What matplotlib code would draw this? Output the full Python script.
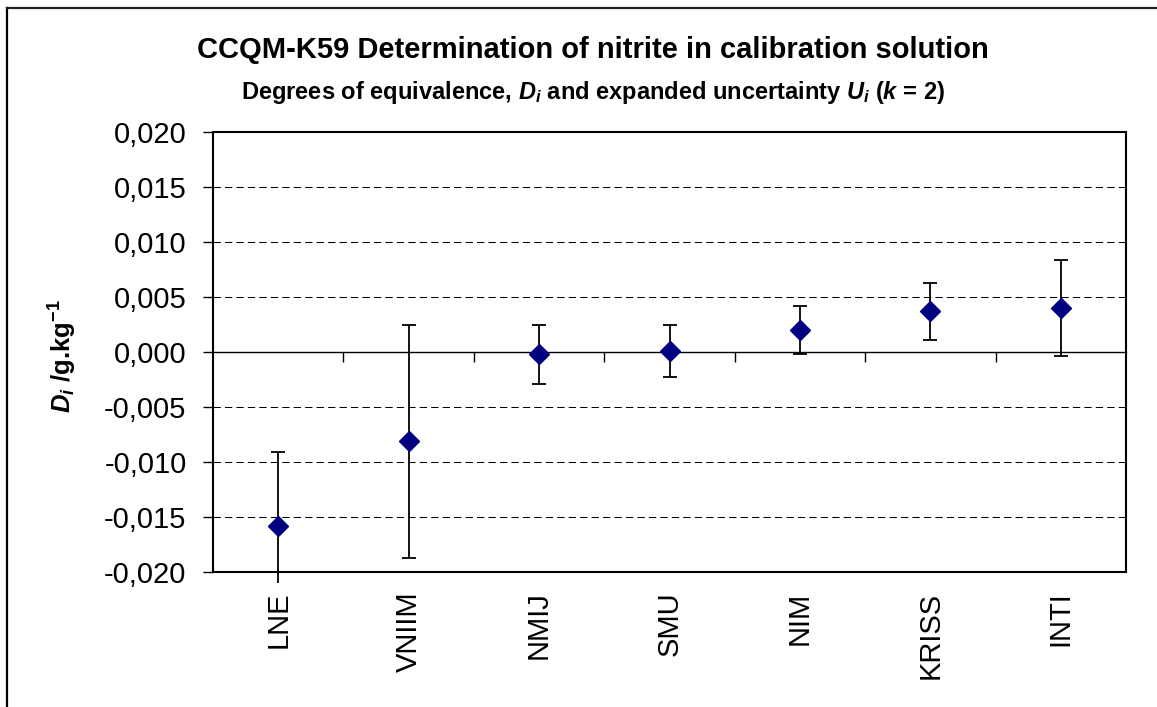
import matplotlib
matplotlib.use("Agg")
import matplotlib.pyplot as plt
from matplotlib.lines import Line2D
from matplotlib.transforms import Bbox, TransformedBbox
from matplotlib.ticker import FuncFormatter, NullFormatter

plt.rcParams['font.family'] = ['Liberation Sans', 'DejaVu Sans']
plt.rcParams['mathtext.fontset'] = 'custom'
plt.rcParams['mathtext.rm'] = 'Liberation Sans:bold'
plt.rcParams['mathtext.it'] = 'Liberation Sans:italic:bold'
plt.rcParams['mathtext.bf'] = 'Liberation Sans:bold'

labs = ["LNE", "VNIIM", "NMIJ", "SMU", "NIM", "KRISS", "INTI"]
D_vals = [-0.0158, -0.0081, -0.0002, 0.0001, 0.0020, 0.0037, 0.0040]
U_vals = [0.0067, 0.0106, 0.0027, 0.0024, 0.0022, 0.0026, 0.0044]
yticks = [-0.020, -0.015, -0.010, -0.005, 0.000, 0.005, 0.010, 0.015, 0.020]

W, H = 1157, 707
fig = plt.figure(figsize=(W / 100, H / 100), dpi=100)
ax = fig.add_axes([213 / W, 1 - 572 / H, (1126 - 213) / W, (572 - 132) / H])

x = list(range(len(labs)))
ax.set_xlim(-0.5, len(labs) - 0.5)
ax.set_ylim(yticks[0], yticks[-1])

# dashed gridlines
for yv in yticks[1:-1]:
    if yv == 0:
        continue
    ax.axhline(yv, color='black', lw=0.75, dashes=(7, 4), zorder=1)

# error bars
eb = ax.errorbar(x, D_vals, yerr=U_vals, fmt='none', ecolor='black', elinewidth=1.3,
                 capsize=5, capthick=1.3, zorder=3)
clipbox = TransformedBbox(Bbox([[0, -0.026], [1, 1]]), ax.transAxes)
for coll in eb.lines[2]:
    coll.set_clip_box(clipbox)
for cl in eb.lines[1]:
    cl.set_clip_box(clipbox)

ax.plot(x, D_vals, linestyle='none', marker='D', ms=10, color='#000080',
        markeredgecolor='#000080', zorder=4)

# x axis at zero with category ticks
sec = ax.secondary_xaxis(0.4999)
sec.set_xticks([i + 0.5 for i in range(len(labs) - 1)])
sec.xaxis.set_major_formatter(NullFormatter())
sec.tick_params(axis='x', length=7.5, width=1, direction='out', color='black')
for sp in sec.spines.values():
    sp.set_linewidth(1)

ax.set_xticks(x)
ax.set_xticklabels(labs, rotation=90, fontsize=21)
ax.tick_params(axis='x', length=0, pad=14)

ax.set_yticks(yticks)
ax.yaxis.set_major_formatter(FuncFormatter(lambda v, p: ("%.3f" % v).replace('.', ',').replace('-0,000', '0,000')))
ax.tick_params(axis='y', length=7, width=1, direction='out', labelsize=21, pad=12)

for s in ax.spines.values():
    s.set_linewidth(1.5)
    s.set_color('black')

ax.set_ylabel(r"$D_i$ /g.kg$^{-1}$", fontsize=18.5, fontweight='bold')
ax.yaxis.set_label_coords(-0.147, 0.49)

fig.text(593 / W, 1 - 50 / H, "CCQM-K59 Determination of nitrite in calibration solution",
         ha='center', va='center', fontsize=21, fontweight='bold')
fig.text(593 / W, 1 - 92 / H,
         r"Degrees of equivalence, $D_i$ and expanded uncertainty $U_i$ ($k$ = 2)",
         ha='center', va='center', fontsize=17, fontweight='bold')

# outer border (left and top)
fig.add_artist(Line2D([7 / W, 7 / W], [0, 1 - 8 / H], transform=fig.transFigure, color='black', lw=1.6))
fig.add_artist(Line2D([7 / W, 1], [1 - 8 / H, 1 - 8 / H], transform=fig.transFigure, color='#222222', lw=1.6))

fig.savefig("out.png", dpi=100, facecolor='white')
